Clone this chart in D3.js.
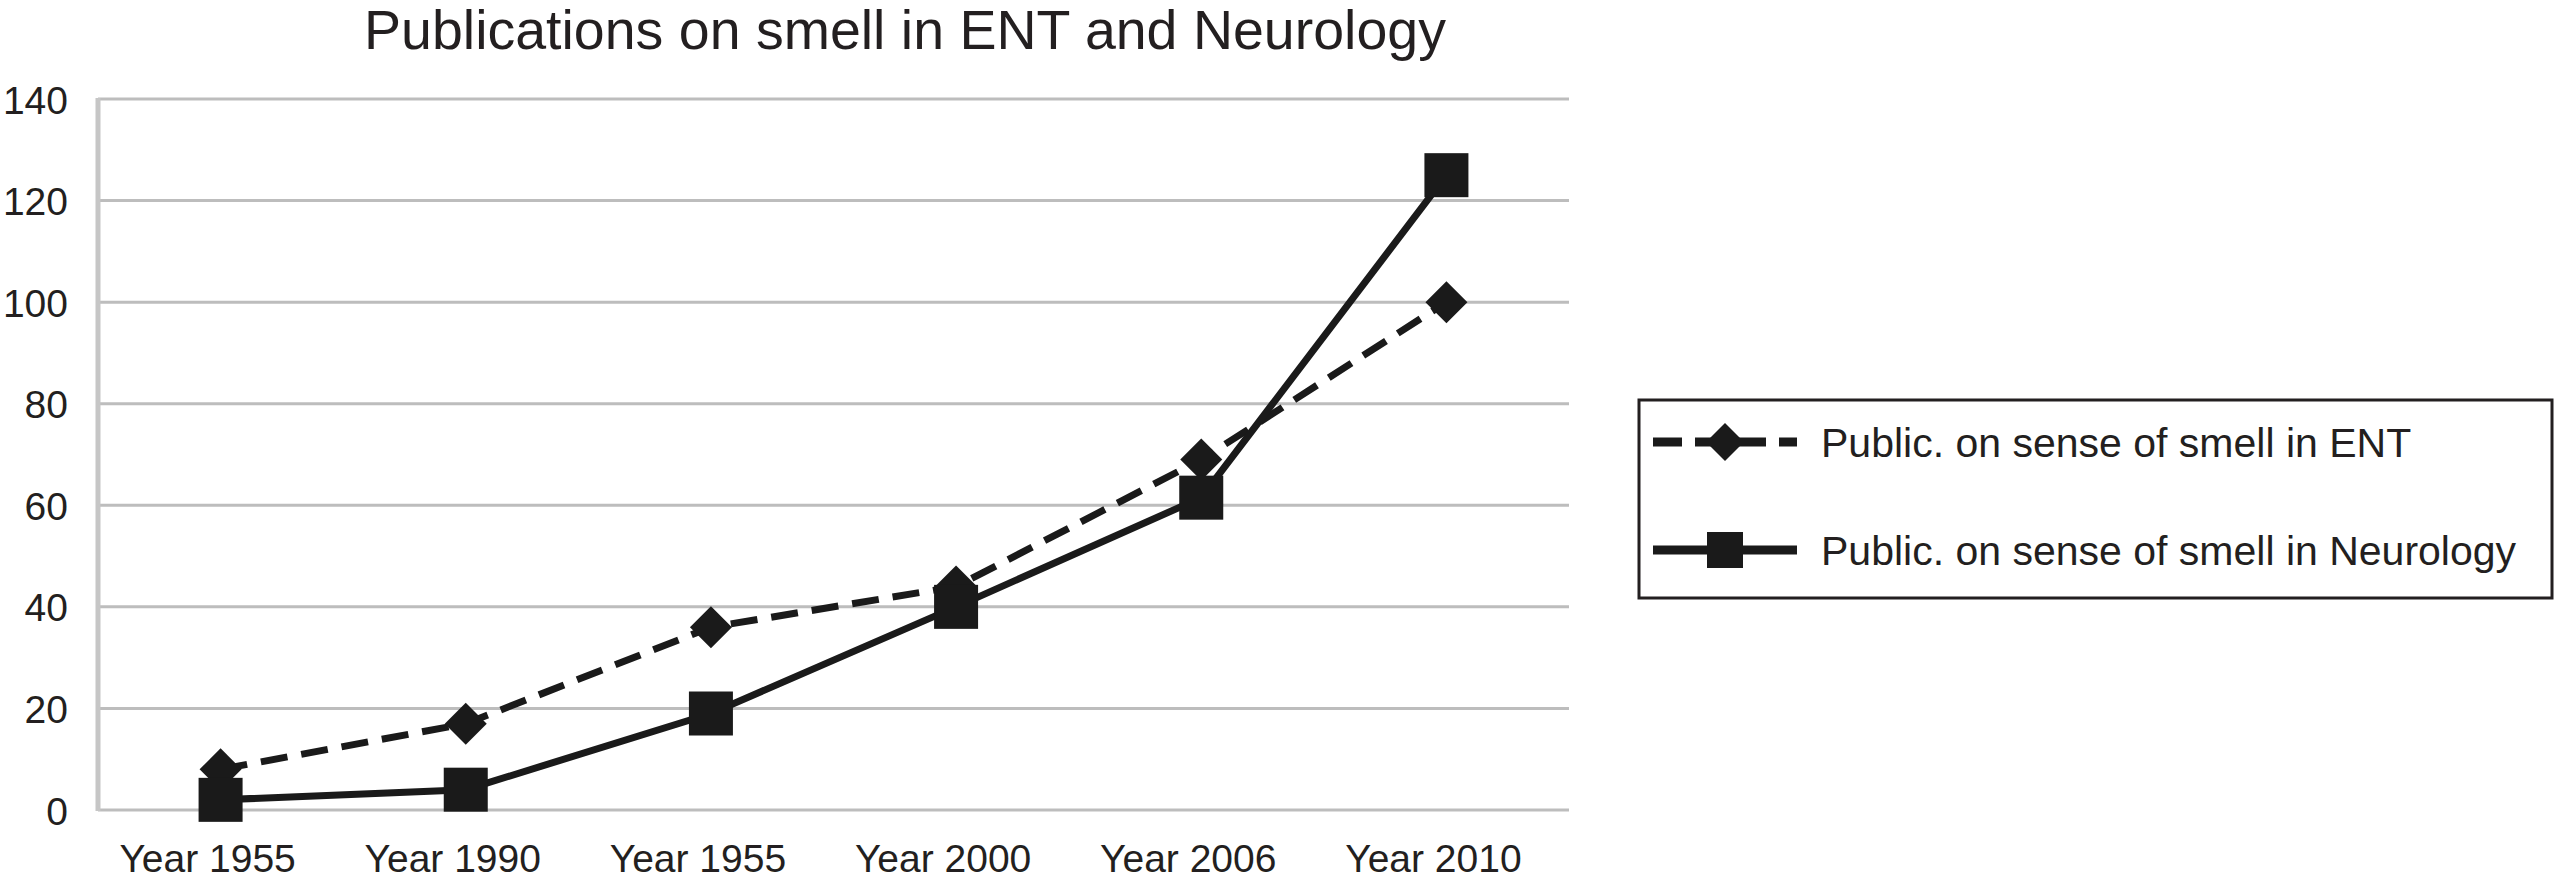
<!DOCTYPE html>
<html>
<head>
<meta charset="utf-8">
<script src="https://cdn.jsdelivr.net/npm/d3@7"></script>
<style>
  html, body { margin: 0; padding: 0; background: #fff; }
  svg { display: block; }
  text { font-family: "Liberation Sans", Arial, Helvetica, sans-serif; fill: #231f20; }
</style>
</head>
<body>
<script>
// ---- data ----
const categories = ["Year 1955", "Year 1990", "Year 1955 ", "Year 2000", "Year 2006", "Year 2010"];
const entValues = [8, 17, 36, 44, 69, 100];
const neuroValues = [2, 4, 19, 40, 61.5, 125];
const yTicks = [0, 20, 40, 60, 80, 100, 120, 140];
const seriesNames = ["Public. on sense of smell in ENT", "Public. on sense of smell in Neurology"];
const titleText = "Publications on smell in ENT and Neurology";

// ---- layout ----
const W = 2557, H = 883;
const plot = { left: 98, right: 1569, top: 99, bottom: 810 };

const svg = d3.select("body").append("svg").attr("width", W).attr("height", H);

const x = d3.scaleBand().domain(categories).range([plot.left, plot.right]).paddingInner(0).paddingOuter(0);
const xc = d => x(d) + x.bandwidth() / 2;
const y = d3.scaleLinear().domain([0, 140]).range([plot.bottom, plot.top]);

// title
svg.append("text")
  .attr("x", 905).attr("y", 49)
  .attr("text-anchor", "middle")
  .style("font-size", "55.5px")
  .text(titleText);

// gridlines
svg.append("g").selectAll("line").data(yTicks).join("line")
  .attr("x1", plot.left).attr("x2", plot.right)
  .attr("y1", d => y(d)).attr("y2", d => y(d))
  .attr("stroke", "#bdbdbd").attr("stroke-width", 3);

// left axis line
svg.append("line")
  .attr("x1", plot.left).attr("x2", plot.left)
  .attr("y1", y(140) - 1).attr("y2", y(0) + 1)
  .attr("stroke", "#c6c6c6").attr("stroke-width", 5);

// y axis labels
const yAxis = d3.axisLeft(y).tickValues(yTicks).tickSize(0).tickPadding(0).tickFormat(d3.format("d"));
const gy = svg.append("g").attr("transform", `translate(68,0)`).call(yAxis);
gy.select(".domain").remove();
gy.selectAll("text")
  .style("font-size", "39px")
  .style("font-family", '"Liberation Sans", Arial, sans-serif')
  .attr("fill", "#231f20")
  .attr("dy", "0.36em");

// x axis labels
const xAxis = d3.axisBottom(x).tickSize(0).tickPadding(0).tickFormat(d => d.trim());
const gx = svg.append("g").attr("transform", `translate(-13,${plot.bottom})`).call(xAxis);
gx.select(".domain").remove();
gx.selectAll("text")
  .style("font-size", "39px")
  .style("font-family", '"Liberation Sans", Arial, sans-serif')
  .attr("fill", "#231f20")
  .attr("y", 62).attr("dy", 0);

const lineGen = d3.line().x(d => xc(d.c)).y(d => y(d.v));
const entData = categories.map((c, i) => ({ c, v: entValues[i] }));
const neuroData = categories.map((c, i) => ({ c, v: neuroValues[i] }));

const diamond = (cx, cy, r) => `M${cx},${cy - r}L${cx + r},${cy}L${cx},${cy + r}L${cx - r},${cy}Z`;

// ENT series (dashed, diamonds)
svg.append("path").datum(entData)
  .attr("d", lineGen).attr("fill", "none")
  .attr("stroke", "#1a1a1a").attr("stroke-width", 7)
  .attr("stroke-dasharray", "27,14");
svg.append("g").selectAll("path").data(entData).join("path")
  .attr("d", d => diamond(xc(d.c), y(d.v), 21))
  .attr("fill", "#1a1a1a");

// Neurology series (solid, squares)
svg.append("path").datum(neuroData)
  .attr("d", lineGen).attr("fill", "none")
  .attr("stroke", "#1a1a1a").attr("stroke-width", 7);
svg.append("g").selectAll("rect").data(neuroData).join("rect")
  .attr("x", d => xc(d.c) - 22).attr("y", d => y(d.v) - 22)
  .attr("width", 44).attr("height", 44)
  .attr("fill", "#1a1a1a");

// legend
const lg = svg.append("g");
lg.append("rect")
  .attr("x", 1639).attr("y", 400).attr("width", 913).attr("height", 198)
  .attr("fill", "#fff").attr("stroke", "#231f20").attr("stroke-width", 3);
const rows = [442, 550];
lg.append("line").attr("x1", 1653).attr("x2", 1797).attr("y1", rows[0]).attr("y2", rows[0])
  .attr("stroke", "#1a1a1a").attr("stroke-width", 9).attr("stroke-dasharray", "29,13");
lg.append("path").attr("d", diamond(1725, rows[0], 19)).attr("fill", "#1a1a1a");
lg.append("line").attr("x1", 1653).attr("x2", 1797).attr("y1", rows[1]).attr("y2", rows[1])
  .attr("stroke", "#1a1a1a").attr("stroke-width", 9);
lg.append("rect").attr("x", 1725 - 18).attr("y", rows[1] - 18).attr("width", 36).attr("height", 36).attr("fill", "#1a1a1a");
lg.selectAll("text.lab").data(seriesNames).join("text")
  .attr("class", "lab")
  .attr("x", 1821).attr("y", (d, i) => rows[i] + 15)
  .style("font-size", "41px")
  .text(d => d);
</script>
</body>
</html>
